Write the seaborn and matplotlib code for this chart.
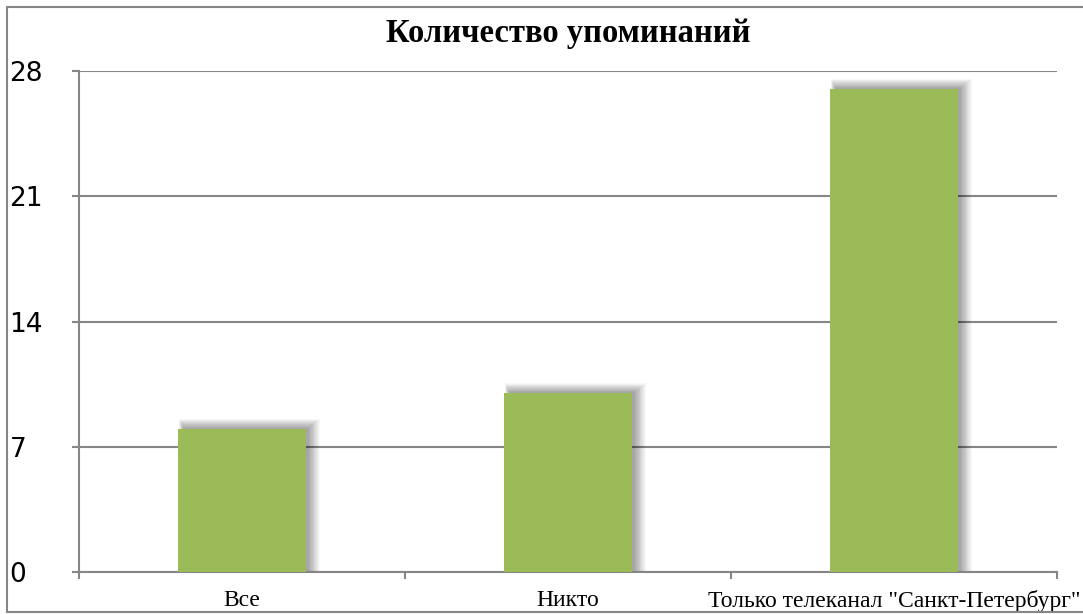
import numpy as np
import pandas as pd
import seaborn as sns
import matplotlib.pyplot as plt
from matplotlib.patches import Rectangle
from matplotlib.lines import Line2D

categories = ["Все", "Никто", "Только телеканал \"Санкт-Петербург\""]
counts = [8, 10, 27]
y_ticks = [0, 7, 14, 21, 28]
title = "Количество упоминаний"

df = pd.DataFrame({"cat": categories, "n": counts})

sns.set_style("white")
plt.rcParams["font.family"] = ["DejaVu Sans"]
plt.rcParams["text.color"] = "black"

W, H = 1083, 614
fig = plt.figure(figsize=(W / 100, H / 100), dpi=100)
ax = fig.add_axes([79 / W, 1 - 572 / H, (1057 - 79) / W, (572 - 71) / H])

grey = "#868686"
sns.barplot(data=df, x="cat", y="n", color="#9BBB59", saturation=1,
            width=0.39, linewidth=0, ax=ax, zorder=3)

ax.set_xlim(-0.5, 2.5)
ax.set_ylim(0, 28)

# soft drop shadow: nested translucent rectangles growing to the right/up
ux = 3 / ax.bbox.width    # data units per pixel (x)
uy = 28 / ax.bbox.height  # data units per pixel (y)
for p in list(ax.patches):
    left, right = p.get_x(), p.get_x() + p.get_width()
    top = p.get_height()
    for e in np.linspace(0, 11, 14):
        l = left + (5 - 0.4 * e) * ux
        r = right + (3 + e) * ux
        t = top + (1 + 0.8 * e) * uy
        ax.add_patch(Rectangle((l, 0), r - l, t, fc="k", lw=0,
                               alpha=0.028, zorder=2))

ax.set_yticks(y_ticks)
ax.yaxis.grid(True, color=grey, lw=1.5, zorder=1)
ax.set_xlabel("")
ax.set_ylabel("")

for s in ["top", "right"]:
    ax.spines[s].set_visible(False)
for s in ["left", "bottom"]:
    ax.spines[s].set_color(grey)
    ax.spines[s].set_linewidth(1.5)

ax.tick_params(axis="y", direction="out", length=5, width=1.5, color=grey,
               pad=45, labelsize=19, left=True, labelcolor="black")
for t in ax.get_yticklabels():
    t.set_horizontalalignment("left")

ax.set_xticks(np.arange(-0.5, 3, 1), minor=True)
ax.tick_params(axis="x", which="minor", direction="out", length=5, width=1.5,
               color=grey, bottom=True)
ax.tick_params(axis="x", which="major", length=0, pad=13, labelsize=17,
               labelcolor="black")
for t in ax.get_xticklabels():
    t.set_fontfamily("Liberation Serif")

fig.text(568 / W, 1 - 42 / H, title, ha="center", va="baseline", color="black",
         fontsize=23.5, fontweight="bold", family="Liberation Serif")

# chart-area frame (left, top, bottom edges)
for xs, ys in [([7, 7], [7, 612]), ([7, W], [7, 7]), ([7, W], [612, 612])]:
    fig.add_artist(Line2D([x / W for x in xs], [1 - y / H for y in ys],
                          transform=fig.transFigure, color=grey, lw=1.5))

fig.savefig("out.png", dpi=100)
